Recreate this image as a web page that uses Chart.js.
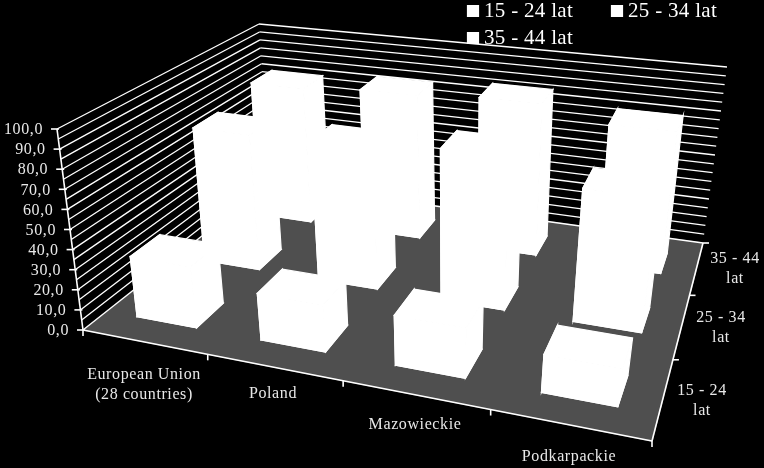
<!DOCTYPE html>
<html>
<head>
<meta charset="utf-8">
<style>
  html, body { margin: 0; background: #000; }
  canvas { display: block; }
</style>
<script src="https://cdn.jsdelivr.net/npm/chart.js@4"></script>
</head>
<body>
<canvas id="chart" width="764" height="468"></canvas>
<script>
// Data
const regions = ['European Union\n(28 countries)', 'Poland', 'Mazowieckie', 'Podkarpackie'];
const ageGroups = ['15 - 24 lat', '25 - 34 lat', '35 - 44 lat'];
const age15to24 = [30.5, 23, 24, 18];
const age25to34 = [73, 74, 79, 68];
const age35to44 = [78, 81, 84, 77];
const valueTicks = [0, 10, 20, 30, 40, 50, 60, 70, 80, 90, 100];

// Box corners of the 3D plot on the page
const floor = [[83, 330], [652, 441], [703, 243], [269, 183]];
const ceil = [[57, 129], [687, 222], [727, 67], [259, 24]];
const depthShare = 0.4;

function quadMap(p) {
    const [[x0, y0], [x1, y1], [x2, y2], [x3, y3]] = p;
    const sx = x0 - x1 + x2 - x3, sy = y0 - y1 + y2 - y3;
    const dx1 = x1 - x2, dx2 = x3 - x2, dy1 = y1 - y2, dy2 = y3 - y2;
    const det = dx1 * dy2 - dx2 * dy1;
    const g = (sx * dy2 - dx2 * sy) / det, h = (dx1 * sy - sx * dy1) / det;
    const a = x1 - x0 + g * x1, b = x3 - x0 + h * x3, d = y1 - y0 + g * y1, e = y3 - y0 + h * y3;
    return (u, v) => {
        const q = g * u + h * v + 1;
        return [(a * u + b * v + x0) / q, (d * u + e * v + y0) / q];
    };
}
const floorAt = quadMap(floor), ceilAt = quadMap(ceil);

function project(u, v, w) {
    const lo = floorAt(u, v), hi = ceilAt(u, v);
    return [lo[0] + (hi[0] - lo[0]) * w, lo[1] + (hi[1] - lo[1]) * w];
}

function poly(ctx, pts, fill) {
    ctx.beginPath();
    pts.forEach((p, i) => i ? ctx.lineTo(p[0], p[1]) : ctx.moveTo(p[0], p[1]));
    ctx.closePath();
    ctx.fillStyle = fill;
    ctx.strokeStyle = fill;
    ctx.lineWidth = 1.2;
    ctx.fill();
    ctx.stroke();
}

function seg(ctx, a, b, width) {
    ctx.beginPath();
    ctx.moveTo(a[0], a[1]);
    ctx.lineTo(b[0], b[1]);
    ctx.lineWidth = width;
    ctx.strokeStyle = '#fff';
    ctx.stroke();
}

function label(ctx, text, x, y, size, align, color, spacing) {
    ctx.font = size + 'px "Liberation Serif"';
    ctx.letterSpacing = spacing + 'px';
    ctx.textAlign = align;
    ctx.textBaseline = 'middle';
    ctx.fillStyle = color;
    ctx.fillText(text, x, y);
}

const regionLabelAt = [[144, 375], [273, 394], [415, 425], [569, 457]];
const ageLabelAt = [[702, 401], [721, 328], [735, 269]];
const legendAt = [[467, 11], [611, 11], [467, 38]];

const box3d = {
    id: 'box3d',
    beforeDatasetsDraw(chart) {
        const ctx = chart.ctx;
        const xs = chart.scales.x, ys = chart.scales.y, zs = chart.scales.z;

        ctx.save();
        // back walls and floor
        poly(ctx, floor, '#4f4f4f');
        const toW = t => (ys.bottom - ys.getPixelForValue(t.value)) / ys.height;
        ys.ticks.forEach(t => {
            const w = toW(t);
            const a = project(0, 0, w), b = project(0, 1, w), c = project(1, 1, w);
            seg(ctx, a, b, 1.3);
            seg(ctx, b, c, 1.3);
            if (t.label) {
                seg(ctx, [a[0] - 6, a[1]], [a[0] + 2, a[1]], 1.6);
                label(ctx, t.label, a[0] - 14, a[1] + 1, 16, 'right', '#e8e8e8', 0.6);
            }
        });
        seg(ctx, project(0, 0, 0), project(0, 0, 1), 1.6);
        seg(ctx, project(0, 0, 0), project(1, 0, 0), 1.6);
        seg(ctx, project(1, 0, 0), project(1, 1, 0), 1.6);

        // ticks between categories
        regions.forEach((r, i) => {
            const p = project((i + 1) / regions.length, 0, 0);
            seg(ctx, p, [p[0], p[1] + 6], 1.6);
        });
        ageGroups.forEach((a, i) => {
            const p = project(1, (i + 1) / ageGroups.length, 0);
            seg(ctx, p, [p[0] + 6, p[1]], 1.6);
        });
        seg(ctx, project(0, 0, 0), [project(0, 0, 0)[0], project(0, 0, 0)[1] + 6], 1.6);

        // bars, positioned from the library's own bar elements
        const vHalf = depthShare / ageGroups.length / 2;
        chart.data.datasets.forEach((ds, d) => {
            const v = (zs.getPixelForValue(d) - zs.left) / zs.width;
            chart.getDatasetMeta(d).data.forEach(el => {
                const u = (el.x - xs.left) / xs.width;
                const uHalf = el.width / xs.width / 2;
                const w = (ys.bottom - el.y) / ys.height;
                const u0 = u - uHalf, u1 = u + uHalf, v0 = v - vHalf, v1 = v + vHalf;
                const c = project;
                poly(ctx, [c(u0, v0, 0), c(u1, v0, 0), c(u1, v1, 0), c(u0, v1, 0)], '#fff');
                poly(ctx, [c(u0, v0, w), c(u1, v0, w), c(u1, v1, w), c(u0, v1, w)], '#fff');
                poly(ctx, [c(u0, v0, 0), c(u1, v0, 0), c(u1, v0, w), c(u0, v0, w)], '#fff');
                poly(ctx, [c(u1, v0, 0), c(u1, v1, 0), c(u1, v1, w), c(u1, v0, w)], '#fff');
                poly(ctx, [c(u0, v0, 0), c(u0, v1, 0), c(u0, v1, w), c(u0, v0, w)], '#fff');
            });
        });

        // axis text
        regions.forEach((r, i) => {
            r.split('\n').forEach((line, k) => {
                label(ctx, line, regionLabelAt[i][0], regionLabelAt[i][1] + k * 20, 16, 'center', '#e8e8e8', 0.6);
            });
        });
        ageGroups.forEach((a, i) => {
            const parts = a.split(' lat');
            label(ctx, parts[0], ageLabelAt[i][0], ageLabelAt[i][1] - 10, 16, 'center', '#e8e8e8', 0.6);
            label(ctx, 'lat', ageLabelAt[i][0], ageLabelAt[i][1] + 10, 16, 'center', '#e8e8e8', 0.6);
        });

        // legend
        ageGroups.forEach((a, i) => {
            const [x, y] = legendAt[i];
            poly(ctx, [[x + 0.5, y - 5.5], [x + 11.5, y - 5.5], [x + 11.5, y + 5.5], [x + 0.5, y + 5.5]], '#fff');
            label(ctx, a, x + 17, y, 21, 'left', '#fff', 0.3);
        });
        ctx.restore();
        return false;
    }
};

new Chart(document.getElementById('chart').getContext('2d'), {
    type: 'bar',
    data: {
        labels: regions,
        datasets: [
            { label: ageGroups[0], data: age15to24 },
            { label: ageGroups[1], data: age25to34 },
            { label: ageGroups[2], data: age35to44 }
        ]
    },
    options: {
        responsive: false,
        animation: false,
        grouped: false,
        barPercentage: 0.49,
        categoryPercentage: 1,
        layout: { padding: 0 },
        plugins: { legend: { display: false }, title: { display: false }, tooltip: { enabled: false } },
        scales: {
            x: { display: false },
            z: { type: 'category', axis: 'x', position: 'bottom', labels: ageGroups, offset: true, display: false },
            y: {
                display: false,
                min: valueTicks[0],
                max: valueTicks[valueTicks.length - 1],
                ticks: {
                    stepSize: 5,
                    callback: v => valueTicks.includes(v) ? v.toFixed(1).replace('.', ',') : ''
                }
            }
        }
    },
    plugins: [box3d]
});
</script>
</body>
</html>
